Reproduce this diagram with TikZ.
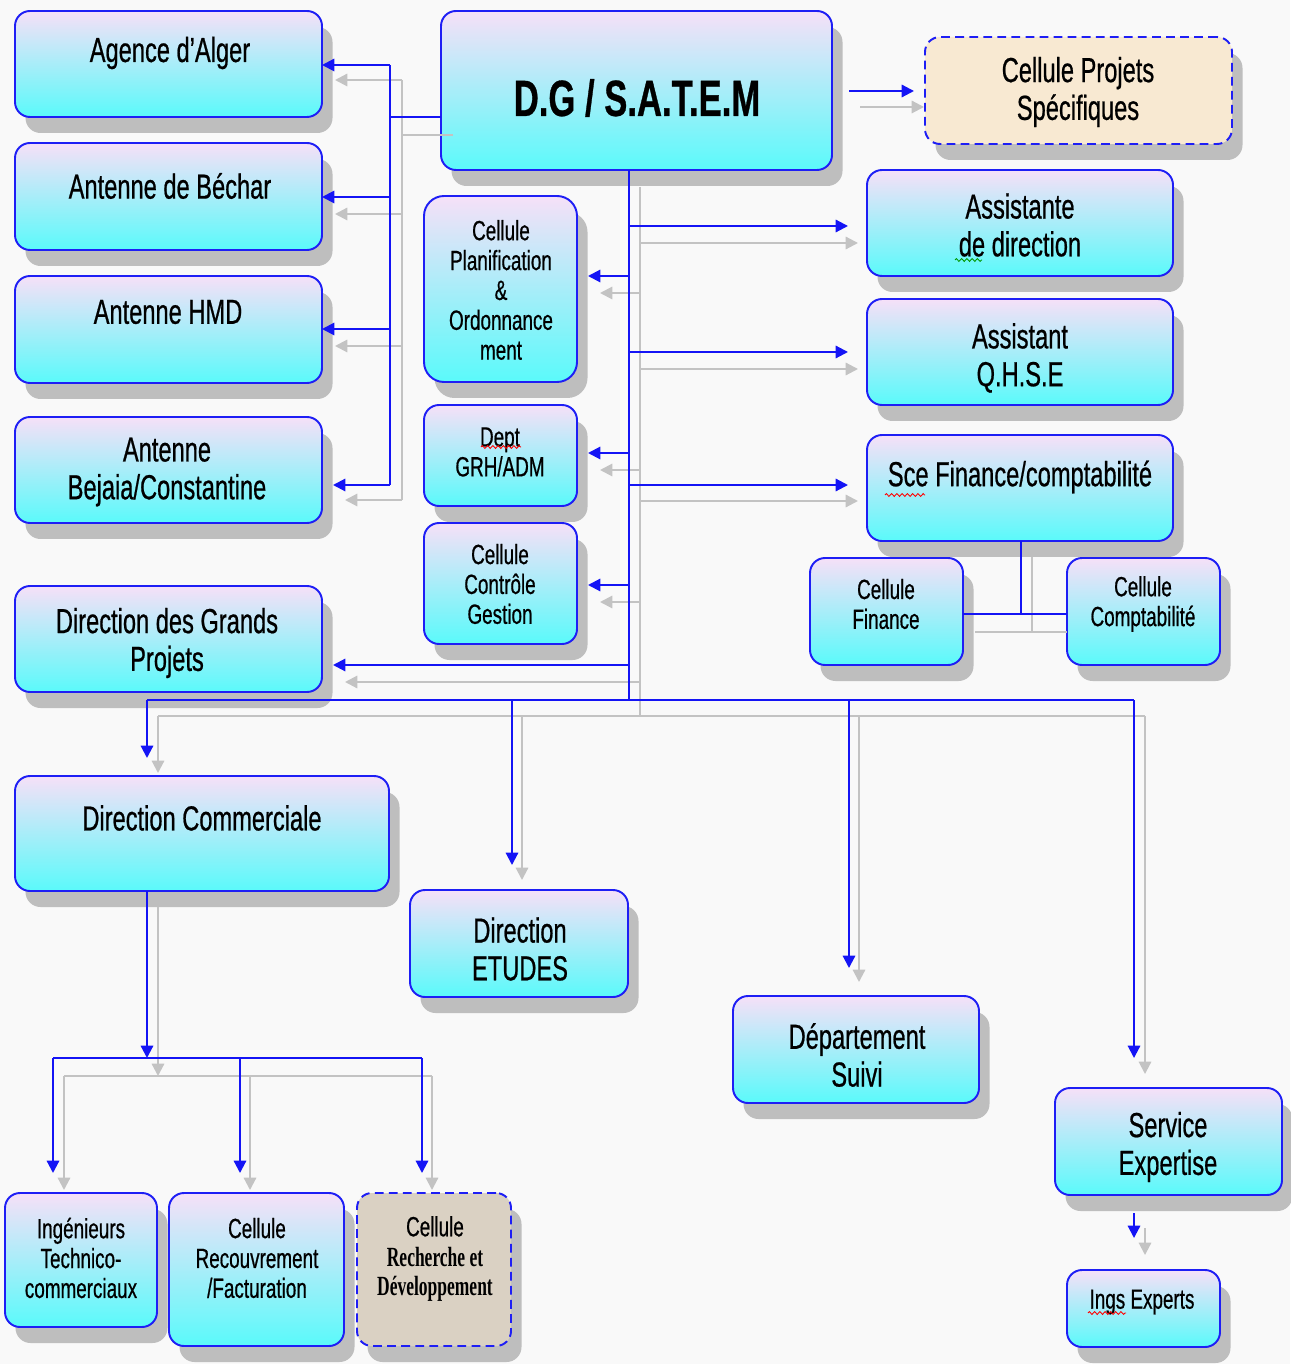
\documentclass[tikz,border=0pt]{standalone}
\usepackage{fontspec}
\setmainfont{Liberation Sans}[FakeStretch=0.68,FakeBold=0.6]
\newfontfamily\rdfont{Liberation Serif}[FakeStretch=0.63]
\usetikzlibrary{arrows.meta,decorations.pathmorphing}
\definecolor{bgc}{RGB}{249,249,249}
\definecolor{topc}{RGB}{246,224,248}
\definecolor{botc}{RGB}{90,250,250}
\definecolor{edgec}{RGB}{30,30,245}
\definecolor{shc}{RGB}{190,190,190}
\definecolor{lnb}{RGB}{20,20,245}
\definecolor{lng}{RGB}{195,195,195}
\definecolor{beigeA}{RGB}{248,233,210}
\definecolor{beigeB}{RGB}{218,209,195}
\newcommand\mkbox[6][]{\node[boxbase,#1,minimum width={#5*0.02cm},minimum height={#6*0.02cm}] (#2) at (#3,#4) {};}
\begin{document}
\begin{tikzpicture}[x=0.02cm,y=-0.02cm,
  boxbase/.style={rectangle,rounded corners=0.3cm,inner sep=0pt,outer sep=0pt,line width=1.1pt,draw=edgec,
    preaction={fill=shc,transform canvas={xshift=0.21cm,yshift=-0.32cm}}},
  grad/.style={top color=topc,bottom color=botc},
  dashbox/.style={dash pattern=on 5pt off 3pt},
  tbig/.style={align=center,inner sep=0pt,font=\fontsize{19.8}{21.5}\selectfont},
  tsml/.style={align=center,inner sep=0pt,font=\fontsize{15.8}{17}\selectfont},
  bl/.style={draw=lnb,line width=1.2pt},
  bla/.style={bl,-{Triangle[length=7pt,width=7pt]}},
  gr/.style={draw=lng,line width=1.2pt},
  gra/.style={gr,-{Triangle[length=7pt,width=7pt]}},
  squig/.style={line width=0.5pt,decorate,decoration={zigzag,amplitude=0.8pt,segment length=3pt}}]
\useasboundingbox (0,0) rectangle (1290,1364);
\fill[bgc] (0,0) rectangle (1290,1364);
% boxes
\mkbox[grad]{agence}{168.5}{64}{307}{106}
\mkbox[grad]{bechar}{168.5}{196.5}{307}{107}
\mkbox[grad]{hmd}{168.5}{329.5}{307}{107}
\mkbox[grad]{bejaia}{168.5}{470}{307}{106}
\mkbox[grad]{dgp}{168.5}{639}{307}{106}
\mkbox[grad]{dg}{636.5}{90.5}{391}{159}
\mkbox[dashbox,fill=beigeA]{cps}{1078.5}{90.5}{307}{107}
\mkbox[grad]{assd}{1020}{223}{306}{106}
\mkbox[grad]{qhse}{1020}{352}{306}{106}
\mkbox[grad]{sfc}{1020}{488}{306}{106}
\mkbox[grad]{cfin}{886.5}{611.5}{153}{107}
\mkbox[grad]{ccpt}{1143.5}{611.5}{153}{107}
\mkbox[grad,rounded corners=0.4cm]{cpo}{500.5}{289}{153}{186}
\mkbox[grad]{grh}{500.5}{455.5}{153}{101}
\mkbox[grad]{ccg}{500.5}{583.5}{153}{121}
\mkbox[grad]{dcom}{202}{833.5}{374}{115}
\mkbox[grad]{detu}{519}{943.5}{218}{107}
\mkbox[grad]{dsuivi}{856}{1049.5}{246}{107}
\mkbox[grad]{sexp}{1168.5}{1141.5}{227}{107}
\mkbox[grad]{ings}{1143.5}{1308.5}{153}{77}
\mkbox[grad]{itc}{81}{1260}{152}{134}
\mkbox[grad]{crf}{256.5}{1269.5}{175}{153}
\mkbox[dashbox,fill=beigeB]{crd}{434}{1269.5}{154}{153}
% gray connectors
\coordinate (gLt) at (402,80); \coordinate (gLb) at (402,500);
\draw[gr] ([xshift=0.24cm]dg.west |- 0,135) -- (gLt |- 0,135);
\draw[gr] (gLt) -- (gLb);
\draw[gra] (gLt) -- ([xshift=0.26cm]agence.east |- gLt);
\draw[gra] (gLt |- 0,214) -- ([xshift=0.26cm]bechar.east |- 0,214);
\draw[gra] (gLt |- 0,346) -- ([xshift=0.26cm]hmd.east |- 0,346);
\draw[gra] (gLb) -- ([xshift=0.46cm]bejaia.east |- gLb);
\coordinate (gCt) at (640,187); \coordinate (gCb) at (640,716);
\draw[gr] (gCt) -- (gCb);
\foreach \yy/\nn in {243/assd,369/qhse,501/sfc}
  \draw[gra] (gCt |- 0,\yy) -- ([xshift=-0.18cm]\nn.west |- 0,\yy);
\foreach \yy/\nn in {293/cpo,470/grh,602/ccg,682/dgp}
  \draw[gra] (gCt |- 0,\yy) -- ([xshift=0.46cm]\nn.east |- 0,\yy);
\draw[gra] ([xshift=0.56cm]dg.east |- 0,107) -- ([xshift=-0.02cm]cps.west |- 0,107);
\coordinate (gB1) at (158,716); \coordinate (gB4) at (1145,716);
\draw[gr] (gB1) -- (gB4);
\draw[gra] (gB1) -- ([yshift=0.06cm]dcom.north -| gB1);
\draw[gra] (522,716) -- ([yshift=0.2cm]detu.north -| 522,0);
\draw[gra] (859,716) -- ([yshift=0.28cm]dsuivi.north -| 859,0);
\draw[gra] (gB4) -- ([yshift=0.28cm]sexp.north -| gB4);
\coordinate (gD) at (158,1076);
\draw[gra] ([yshift=-0.32cm]dcom.south -| gD) -- (gD);
\draw[gr] (64,1076) -- (432,1076);
\foreach \xx/\nn in {64/itc,250/crf,432/crd}
  \draw[gra] (\xx,1076) -- ([yshift=0.06cm]\nn.north -| \xx,0);
\draw[gra] ([yshift=-0.66cm]sexp.south -| 1145,0) -- ([yshift=0.3cm]ings.north -| 1145,0);
\draw[gr] ([yshift=-0.32cm]sfc.south -| 1032,0) -- (1032,632);
\draw[gr] ([xshift=0.24cm]cfin.east |- 0,632) -- (ccpt.west |- 0,632);
% blue connectors
\coordinate (bLt) at (390,65); \coordinate (bLb) at (390,485);
\draw[bl] (dg.west |- 0,117) -- (bLt |- 0,117);
\draw[bl] (bLt) -- (bLb);
\draw[bla] (bLt) -- (agence.east |- bLt);
\draw[bla] (bLt |- 0,197) -- (bechar.east |- 0,197);
\draw[bla] (bLt |- 0,329) -- (hmd.east |- 0,329);
\draw[bla] (bLb) -- ([xshift=0.22cm]bejaia.east |- bLb);
\coordinate (bCb) at (629,700);
\draw[bl] (dg.south -| bCb) -- (bCb);
\foreach \yy/\nn in {226/assd,352/qhse,485/sfc}
  \draw[bla] (bCb |- 0,\yy) -- ([xshift=-0.38cm]\nn.west |- 0,\yy);
\foreach \yy/\nn in {276/cpo,453/grh,585/ccg,665/dgp}
  \draw[bla] (bCb |- 0,\yy) -- ([xshift=0.22cm]\nn.east |- 0,\yy);
\draw[bla] ([xshift=0.34cm]dg.east |- 0,91) -- ([xshift=-0.22cm]cps.west |- 0,91);
\coordinate (bB1) at (147,700); \coordinate (bB4) at (1134,700);
\draw[bl] (bB1) -- (bB4);
\draw[bla] (bB1) -- ([yshift=0.36cm]dcom.north -| bB1);
\draw[bla] (512,700) -- ([yshift=0.5cm]detu.north -| 512,0);
\draw[bla] (849,700) -- ([yshift=0.56cm]dsuivi.north -| 849,0);
\draw[bla] (bB4) -- ([yshift=0.6cm]sexp.north -| bB4);
\coordinate (bD) at (147,1058);
\draw[bla] (dcom.south -| bD) -- (bD);
\draw[bl] (53,1058) -- (422,1058);
\foreach \xx/\nn in {53/itc,240/crf,422/crd}
  \draw[bla] (\xx,1058) -- ([yshift=0.4cm]\nn.north -| \xx,0);
\draw[bla] ([yshift=-0.36cm]sexp.south -| 1134,0) -- ([yshift=0.64cm]ings.north -| 1134,0);
\draw[bl] (sfc.south -| 1021,0) -- (1021,614);
\draw[bl] (cfin.east |- 0,614) -- (ccpt.west |- 0,614);
% texts
\node[tbig] (tAgence) at (170,53) {Agence d’Alger};
\node[tbig] (tBechar) at (170,186) {Antenne de Béchar};
\node[tbig] (tHmd) at (168,312) {Antenne HMD};
\node[tbig] (tBejaia) at (167,472) {Antenne\\Bejaia/Constantine};
\node[tbig] (tDgp) at (167,643) {Direction des Grands\\Projets};
\node[align=center,inner sep=0pt,font=\fontsize{29}{30}\selectfont\bfseries] (tDg) at (637,98) {D.G / S.A.T.E.M};
\node[tbig] (tCps) at (1078,92) {Cellule Projets\\Spécifiques};
\node[tbig] (tAssd) at (1020,225) {Assistante\\de direction};
\node[tbig] (tQhse) at (1020,358) {Assistant\\Q.H.S.E};
\node[tbig] (tSfc) at (1020,477) {Sce Finance/comptabilité};
\node[tsml] (tCfin) at (886,604) {Cellule\\Finance};
\node[tsml] (tCcpt) at (1143,604) {Cellule\\Comptabilité};
\node[tsml] (tCpo) at (501,290) {Cellule\\Planification\\\&\\Ordonnance\\ment};
\node[tsml] (tGrh) at (500,452) {Dept\\GRH/ADM};
\node[tsml] (tCcg) at (500,584) {Cellule\\Contrôle\\Gestion};
\node[tbig] (tDcom) at (202,818) {Direction Commerciale};
\node[tbig] (tDetu) at (520,949) {Direction\\ETUDES};
\node[tbig] (tDsuivi) at (857,1055) {Département\\Suivi};
\node[tbig] (tSexp) at (1168,1147) {Service\\Expertise};
\node[tsml] (tIngs) at (1142,1302) {Ings Experts};
\node[tsml] (tItc) at (81,1258) {Ingénieurs\\Technico-\\commerciaux};
\node[tsml] (tCrf) at (257,1258) {Cellule\\Recouvrement\\/Facturation};
\node[tsml] (tCrd) at (435,1259) {Cellule\\{\rdfont\bfseries Recherche et}\\{\rdfont\bfseries Développement}};
% spell-check marks
\draw[squig,red] (481,447) -- (521,447);
\draw[squig,green!60!black] (955,260) -- (982,260);
\draw[squig,red] (885,495) -- (925,495);
\draw[squig,red] (1088,1313) -- (1126,1313);
\end{tikzpicture}
\end{document}
